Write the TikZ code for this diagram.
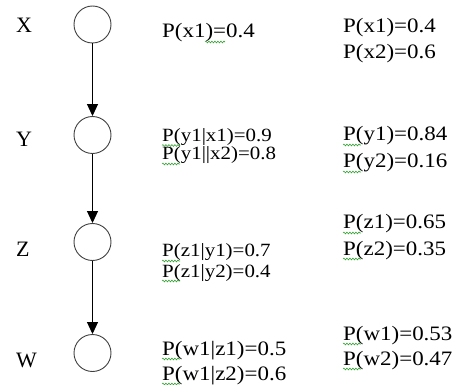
\documentclass[tikz,border=0pt]{standalone}
\usepackage{fontspec}
\setmainfont[FakeStretch=1.12]{Liberation Serif}
\newfontfamily\varfont{Liberation Serif}
\usetikzlibrary{arrows.meta,decorations.pathmorphing}

\begin{document}
\begin{tikzpicture}[x=1pt,y=-1pt,
  varnode/.style={circle,draw=black!75,line width=0.9pt,minimum size=37pt,inner sep=0pt},
  edge/.style={line width=1pt,-{Triangle[length=12pt,width=11pt]}},
  varname/.style={anchor=base west,inner sep=0pt,font=\varfont\fontsize{22}{24}\selectfont},
  prob/.style={anchor=base west,inner sep=0pt,font=\fontsize{20.5}{24}\selectfont},
  cprob/.style={anchor=base west,inner sep=0pt,font=\fontsize{18.7}{22}\selectfont},
  squiggle/.style={draw=green!55!black!80,line width=0.6pt,
    decorate,decoration={snake,amplitude=0.9pt,segment length=3pt}}
]
\useasboundingbox (0,0) rectangle (469,385);

% network nodes
\node[varnode] (nx) at (92.5,24.5) {};
\node[varnode] (ny) at (92.5,135) {};
\node[varnode] (nz) at (92.5,242) {};
\node[varnode] (nw) at (92.5,353) {};

\draw[edge] (nx) -- (ny);
\draw[edge] (ny) -- (nz);
\draw[edge] (nz) -- (nw);

% variable names
\node[varname] (lx) at (16,33) {X};
\node[varname] (ly) at (16,147) {Y};
\node[varname] (lz) at (16,257) {Z};
\node[varname] (lw) at (16,367) {W};

% conditional tables
\node[prob]  (cx1) at (162,38)  {P(x1)=0.4};
\node[cprob] (cy1) at (162,141.5) {P(y1|x1)=0.9};
\node[cprob] (cy2) at (162,160) {P(y1||x2)=0.8};
\node[cprob] (cz1) at (162,257) {P(z1|y1)=0.7};
\node[cprob] (cz2) at (162,277) {P(z1|y2)=0.4};
\node[prob]  (cw1) at (162,355) {P(w1|z1)=0.5};
\node[prob]  (cw2) at (162,380) {P(w1|z2)=0.6};

% marginals
\node[prob] (mx1) at (343,33)  {P(x1)=0.4};
\node[prob] (mx2) at (343,59)  {P(x2)=0.6};
\node[prob] (my1) at (343,141) {P(y1)=0.84};
\node[prob] (my2) at (343,168) {P(y2)=0.16};
\node[prob] (mz1) at (343,229) {P(z1)=0.65};
\node[prob] (mz2) at (343,255) {P(z2)=0.35};
\node[prob] (mw1) at (343,340) {P(w1)=0.53};
\node[prob] (mw2) at (343,365) {P(w2)=0.47};

% proofing underlines
\draw[squiggle] ([shift={(43,4)}]cx1.base west) -- +(20,0);
\foreach \n in {cy1,cy2,cz1,cz2,cw1,cw2,my1,my2,mz1,mz2,mw1,mw2}
  \draw[squiggle] ([shift={(0,4)}]\n.base west) -- +(18,0);
\end{tikzpicture}
\end{document}
